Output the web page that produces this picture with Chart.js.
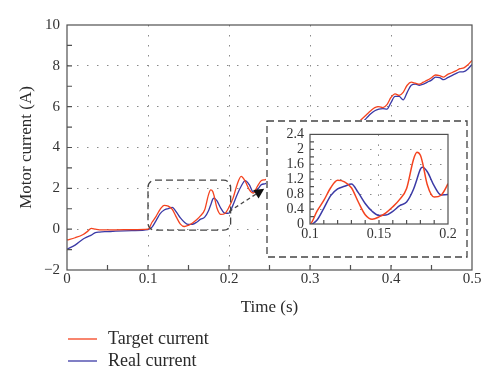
<!DOCTYPE html>
<html>
<head>
<meta charset="utf-8">
<script src="https://cdn.jsdelivr.net/npm/chart.js@4.4.0/dist/chart.umd.min.js"></script>
<style>
  body { margin: 0; background: #fff; }
  #wrap { position: relative; width: 500px; height: 384px; }
  #main { position: absolute; left: 0; top: 0; }
  #zoom { position: absolute; left: 266px; top: 120px; }
</style>
</head>
<body>
<div id="wrap">
  <canvas id="main" width="500" height="384"></canvas>
  <canvas id="zoom" width="202" height="138"></canvas>
</div>
<script>
// data
var tempo = [0, 0.01, 0.02, 0.025, 0.03, 0.035, 0.04, 0.05, 0.06, 0.08,
  0.1, 0.105, 0.11, 0.115, 0.12, 0.125, 0.13, 0.135, 0.14, 0.145, 0.15, 0.155, 0.16, 0.165, 0.17, 0.175, 0.1775, 0.18, 0.1815, 0.185, 0.19, 0.195,
  0.2, 0.205, 0.21, 0.215, 0.22, 0.225, 0.23, 0.235, 0.24, 0.245,
  0.26, 0.28, 0.3, 0.32, 0.34, 0.36,
  0.37, 0.375, 0.38, 0.385, 0.39, 0.395, 0.4, 0.405, 0.41, 0.415, 0.42, 0.425, 0.43, 0.435, 0.44, 0.445, 0.45, 0.455, 0.46, 0.465, 0.47, 0.475, 0.48, 0.485, 0.49, 0.495, 0.5];

var corrente_alvo = [-0.53, -0.42, -0.26, -0.12, 0.04, 0.0, -0.03, -0.03, -0.03, -0.02,
  0.0, 0.34, 0.63, 0.97, 1.17, 1.13, 0.97, 0.59, 0.25, 0.13, 0.19, 0.3, 0.46, 0.66, 0.95, 1.73, 1.92, 1.84, 1.65, 1.05, 0.72, 0.77,
  1.08, 1.52, 2.18, 2.59, 2.35, 1.94, 1.77, 2.1, 2.38, 2.43,
  2.8, 3.2, 3.6, 4.1, 4.6, 5.25,
  5.62, 5.8, 5.95, 6.0, 5.95, 6.1, 6.45, 6.63, 6.55, 6.7, 7.05, 7.2, 7.15, 7.1, 7.2, 7.3, 7.42, 7.55, 7.52, 7.45, 7.58, 7.66, 7.75, 7.86, 7.9, 8.05, 8.27];

var corrente_real = [-0.98, -0.78, -0.48, -0.38, -0.29, -0.17, -0.14, -0.12, -0.1, -0.07,
  -0.02, 0.1, 0.42, 0.76, 0.94, 1.01, 1.07, 0.84, 0.55, 0.34, 0.23, 0.24, 0.34, 0.49, 0.59, 0.93, 1.2, 1.47, 1.52, 1.4, 1.02, 0.78,
  0.79, 1.19, 1.69, 2.1, 2.38, 2.18, 1.82, 1.94, 2.18, 2.23,
  2.6, 3.0, 3.4, 3.9, 4.4, 5.05,
  5.45, 5.65, 5.8, 5.88, 5.9, 5.88, 6.2, 6.5, 6.5, 6.33, 6.7, 7.05, 7.1, 7.05, 7.1, 7.2, 7.3, 7.45, 7.42, 7.32, 7.42, 7.52, 7.62, 7.7, 7.72, 7.85, 8.07];

var legendas = ['Target current', 'Real current'];
var x_labels = ['0', '0.1', '0.2', '0.3', '0.4', '0.5'];
var y_labels = ['\u22122', '0', '2', '4', '6', '8', '10'];
var zoom_x_labels = ['0.1', '0.15', '0.2'];
var zoom_y_labels = ['0', '0.4', '0.8', '1.2', '1.6', '2', '2.4'];

var cor_alvo = '#f4431f';
var cor_real = '#3b3aa6';
var fonte = 'Liberation Serif, DejaVu Serif, serif';

function pontos(valores) {
    return tempo.map(function (t, i) { return { x: t, y: valores[i] }; });
}

function datasets(largura) {
    return [{
        label: legendas[0], data: pontos(corrente_alvo), borderColor: cor_alvo,
        borderWidth: largura, pointRadius: 0, cubicInterpolationMode: 'monotone'
    }, {
        label: legendas[1], data: pontos(corrente_real), borderColor: cor_real,
        borderWidth: largura, pointRadius: 0, cubicInterpolationMode: 'monotone'
    }];
}

// moldura + ticks para dentro
function desenharMoldura(chart, passoX, passoY, tam) {
    var ctx = chart.ctx, a = chart.chartArea, sx = chart.scales.x, sy = chart.scales.y;
    ctx.save();
    ctx.strokeStyle = '#505050';
    ctx.lineWidth = 1.2;
    ctx.strokeRect(a.left, a.top, a.right - a.left, a.bottom - a.top);
    ctx.beginPath();
    var n = Math.round((sy.max - sy.min) / passoY);
    for (var i = 1; i < n; i++) {
        var py = sy.getPixelForValue(sy.min + i * passoY);
        ctx.moveTo(a.left, py); ctx.lineTo(a.left + tam, py);
    }
    n = Math.round((sx.max - sx.min) / passoX);
    for (var j = 1; j < n; j++) {
        var px = sx.getPixelForValue(sx.min + j * passoX);
        ctx.moveTo(px, a.bottom); ctx.lineTo(px, a.bottom - tam);
    }
    ctx.stroke();
    ctx.restore();
}

function caixaArredondada(ctx, x0, y0, x1, y1, r) {
    ctx.beginPath();
    ctx.moveTo(x0 + r, y0);
    ctx.lineTo(x1 - r, y0); ctx.arcTo(x1, y0, x1, y0 + r, r);
    ctx.lineTo(x1, y1 - r); ctx.arcTo(x1, y1, x1 - r, y1, r);
    ctx.lineTo(x0 + r, y1); ctx.arcTo(x0, y1, x0, y1 - r, r);
    ctx.lineTo(x0, y0 + r); ctx.arcTo(x0, y0, x0 + r, y0, r);
    ctx.closePath();
}

var pluginPrincipal = {
    id: 'principal',
    afterDraw: function (chart) {
        desenharMoldura(chart, 0.05, 1, 5);
        var ctx = chart.ctx, sx = chart.scales.x, sy = chart.scales.y;
        ctx.save();
        // caixa tracejada da regiao ampliada
        ctx.strokeStyle = '#444';
        ctx.lineWidth = 1.3;
        ctx.setLineDash([7, 4]);
        caixaArredondada(ctx, sx.getPixelForValue(0.1), sy.getPixelForValue(2.4),
            sx.getPixelForValue(0.202), sy.getPixelForValue(-0.05), 7);
        ctx.stroke();
        // seta tracejada
        var x0 = sx.getPixelForValue(0.2), y0 = sy.getPixelForValue(0.86);
        var x1 = sx.getPixelForValue(0.2435), y1 = sy.getPixelForValue(1.98);
        var ang = Math.atan2(y1 - y0, x1 - x0);
        ctx.setLineDash([4, 3]);
        ctx.beginPath();
        ctx.moveTo(x0, y0);
        ctx.lineTo(x1 - 8 * Math.cos(ang), y1 - 8 * Math.sin(ang));
        ctx.stroke();
        ctx.setLineDash([]);
        ctx.fillStyle = '#111';
        ctx.beginPath();
        ctx.moveTo(x1, y1);
        ctx.lineTo(x1 - 10 * Math.cos(ang) + 5 * Math.sin(ang), y1 - 10 * Math.sin(ang) - 5 * Math.cos(ang));
        ctx.lineTo(x1 - 10 * Math.cos(ang) - 5 * Math.sin(ang), y1 - 10 * Math.sin(ang) + 5 * Math.cos(ang));
        ctx.closePath();
        ctx.fill();
        // legenda
        ctx.font = '18px ' + fonte;
        ctx.textBaseline = 'middle';
        ctx.fillStyle = '#2a2a2a';
        chart.data.datasets.forEach(function (ds, i) {
            var yy = 339 + i * 22;
            ctx.strokeStyle = ds.borderColor;
            ctx.lineWidth = 1.3;
            ctx.beginPath();
            ctx.moveTo(68, yy); ctx.lineTo(97, yy);
            ctx.stroke();
            ctx.fillText(ds.label, 108, yy);
        });
        ctx.restore();
    }
};

var pluginZoom = {
    id: 'zoom',
    beforeDraw: function (chart) {
        var ctx = chart.ctx;
        ctx.save();
        ctx.fillStyle = '#fff';
        ctx.fillRect(0, 0, chart.width, chart.height);
        ctx.strokeStyle = '#444';
        ctx.lineWidth = 1.3;
        ctx.setLineDash([7, 4]);
        ctx.strokeRect(1, 1, chart.width - 2, chart.height - 2);
        ctx.restore();
    },
    afterDraw: function (chart) {
        desenharMoldura(chart, 0.01, 0.2, 4);
    }
};

function gradeInterna(ultimo) {
    return function (c) {
        return (c.index === 0 || c.index === ultimo) ? 'transparent' : '#8a8a8a';
    };
}

function eixos(cfg) {
    return {
        x: {
            type: 'linear', min: cfg.xmin, max: cfg.xmax,
            ticks: {
                stepSize: cfg.xstep, padding: cfg.padX, color: '#333', autoSkip: false, maxRotation: 0,
                font: { family: fonte, size: cfg.fs },
                callback: function (v, i) { return cfg.xl[i]; }
            },
            grid: { color: gradeInterna(cfg.xl.length - 1), drawTicks: false, lineWidth: 1 },
            border: { display: false, dash: [1.5, 8.5] },
            title: { display: !!cfg.xt, text: cfg.xt, color: '#2a2a2a', font: { family: fonte, size: 17 }, padding: 0 },
            afterFit: function (s) { s.height = cfg.h; }
        },
        y: {
            min: cfg.ymin, max: cfg.ymax,
            ticks: {
                stepSize: cfg.ystep, padding: cfg.padY, color: '#333', autoSkip: false,
                font: { family: fonte, size: cfg.fs },
                callback: function (v, i) { return cfg.yl[i]; }
            },
            grid: { color: gradeInterna(cfg.yl.length - 1), drawTicks: false, lineWidth: 1 },
            border: { display: false, dash: [1.5, 8.5] },
            title: { display: !!cfg.yt, text: cfg.yt, color: '#2a2a2a', font: { family: fonte, size: 17 }, padding: { top: 16 } },
            afterFit: function (s) { s.width = cfg.w; }
        }
    };
}

new Chart(document.getElementById('main'), {
    type: 'line',
    data: { datasets: datasets(1.3) },
    options: {
        responsive: false,
        animation: false,
        layout: { padding: { left: 0, right: 28, top: 25, bottom: 66 } },
        plugins: { legend: { display: false }, tooltip: { enabled: false } },
        scales: eixos({
            xmin: 0, xmax: 0.5, xstep: 0.1, xl: x_labels, xt: 'Time (s)',
            ymin: -2, ymax: 10, ystep: 2, yl: y_labels, yt: 'Motor current (A)',
            fs: 15, padX: 0, padY: 7, h: 48, w: 67
        })
    },
    plugins: [pluginPrincipal]
});

new Chart(document.getElementById('zoom'), {
    type: 'line',
    data: { datasets: datasets(1.5) },
    options: {
        responsive: false,
        animation: false,
        layout: { padding: { left: 0, right: 20, top: 9, bottom: 0 } },
        plugins: { legend: { display: false }, tooltip: { enabled: false } },
        scales: eixos({
            xmin: 0.1, xmax: 0.2, xstep: 0.05, xl: zoom_x_labels, xt: '',
            ymin: 0, ymax: 2.4, ystep: 0.4, yl: zoom_y_labels, yt: '',
            fs: 14, padX: 2, padY: 6, h: 34, w: 44
        })
    },
    plugins: [pluginZoom]
});
</script>
</body>
</html>
